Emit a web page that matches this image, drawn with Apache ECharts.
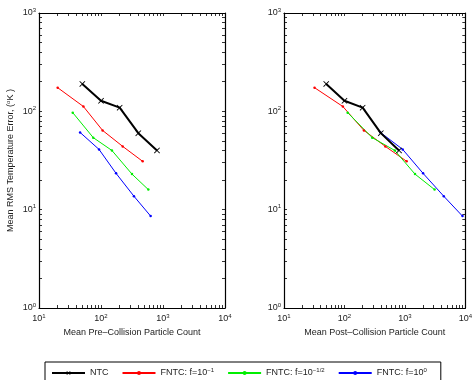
<!DOCTYPE html>
<html><head><meta charset="utf-8">
<script src="https://cdn.jsdelivr.net/npm/echarts@6/dist/echarts.min.js"></script>
<style>html,body{margin:0;padding:0;background:#fff}#c{width:475px;height:380px}</style>
</head><body><div id="c"></div>
<script>
// ---- data ----
const seriesNames = ['NTC', 'FNTC: f=10^\u22121', 'FNTC: f=10^\u22121/2', 'FNTC: f=10^0'];
const ntcCount = [50, 100, 200, 400, 800];
const ntcErr = [190, 128, 109, 60, 40];
const f1Pre = [20, 52, 106, 224, 470];
const f1Post = [32, 94, 210, 475, 1070];
const f1Err = [174, 112, 64, 44, 31];
const f2Pre = [35, 75, 150, 316, 580];
const f2Post = [113, 288, 680, 1470, 3100];
const f2Err = [97, 54, 40, 23, 16];
const f3Pre = [46, 93, 175, 340, 632];
const f3Post = [394, 920, 2000, 4400, 8970];
const f3Err = [61, 41, 23.4, 13.7, 8.6];
const xTicks = [10, 100, 1000, 10000];
const yTicks = [1, 10, 100, 1000];
const xMinor = [10,20,30,40,50,60,70,80,90,100,200,300,400,500,600,700,800,900,1000,2000,3000,4000,5000,6000,7000,8000,9000,10000];
const yMinor = [1,2,3,4,5,6,7,8,9,10,20,30,40,50,60,70,80,90,100,200,300,400,500,600,700,800,900,1000];
const xNames = ['Mean Pre\u2013Collision Particle Count', 'Mean Post\u2013Collision Particle Count'];
const yName = 'Mean RMS Temperature Error, (';
const colors = ['#000000', '#ff0000', '#00ee00', '#0000ff'];

const FONT = 'Liberation Sans, Arial, sans-serif';
const rich = {
  b: {fontSize: 9, fontFamily: FONT, color: '#222'},
  s: {fontSize: 6, fontFamily: FONT, color: '#222', padding: [0, 0, 6, 0]}
};
function supLabel(v) {
  const e = Math.round(Math.log10(v));
  return '{b|10}{s|' + e + '}';
}
function xAxisDef(grid, pos, showLabel, name) {
  return {
    type: 'log', logBase: 10, min: 10, max: 10000, gridIndex: grid, position: pos,
    name: showLabel ? name : '', nameLocation: 'middle', nameGap: 19,
    nameTextStyle: {fontSize: 9, fontFamily: FONT, color: '#222'},
    axisLine: {show: true, lineStyle: {color: '#000', width: 1.2}},
    axisTick: {show: true, inside: true, length: 3, customValues: xMinor, lineStyle: {color: '#000', width: 0.8}},
    axisLabel: {show: showLabel, customValues: xTicks, formatter: supLabel, rich: rich, margin: 5},
    splitLine: {show: false}
  };
}
function yAxisDef(grid, pos, showLabel, withName) {
  return {
    type: 'log', logBase: 10, min: 1, max: 1000, gridIndex: grid, position: pos,
    name: withName ? '{b|' + yName + '}{s|o}{b|K )}' : '', nameLocation: 'middle', nameGap: 22,
    nameRotate: 90,
    nameTextStyle: {fontSize: 9, fontFamily: FONT, color: '#222', rich: rich},
    axisLine: {show: true, lineStyle: {color: '#000', width: 1.2}},
    axisTick: {show: true, inside: true, length: 3, customValues: yMinor, lineStyle: {color: '#000', width: 0.8}},
    axisLabel: {show: showLabel, customValues: yTicks, formatter: supLabel, rich: rich, margin: 3},
    splitLine: {show: false}
  };
}
const crossPath = 'path://M0,1L1,0L5,4L9,0L10,1L6,5L10,9L9,10L5,6L1,10L0,9L4,5Z';
function pairs(xs, ys) { return xs.map((x, i) => [x, ys[i]]); }
function mk(idx, xs, ys, axis) {
  const isNTC = idx === 0;
  return {
    type: 'line', name: seriesNames[idx], xAxisIndex: axis * 2, yAxisIndex: axis * 2,
    data: pairs(xs, ys), z: isNTC ? 5 : 3,
    symbol: isNTC ? crossPath : 'circle', symbolSize: isNTC ? 6 : 2.5,
    showSymbol: true, animation: false,
    lineStyle: {color: colors[idx], width: isNTC ? 2 : 1},
    itemStyle: {color: colors[idx]}
  };
}
const chart = echarts.init(document.getElementById('c'), null, {renderer: 'canvas'});
chart.setOption({
  animation: false,
  backgroundColor: '#fff',
  grid: [
    {left: 39, top: 13, width: 186, height: 295},
    {left: 284, top: 13, width: 184, height: 295}
  ],
  xAxis: [
    xAxisDef(0, 'bottom', true, xNames[0]), xAxisDef(0, 'top', false),
    xAxisDef(1, 'bottom', true, xNames[1]), xAxisDef(1, 'top', false)
  ],
  yAxis: [
    yAxisDef(0, 'left', true, true), yAxisDef(0, 'right', false, false),
    yAxisDef(1, 'left', true, false), yAxisDef(1, 'right', false, false)
  ],
  legend: {
    data: seriesNames, left: 45, top: 362, orient: 'horizontal', width: 460,
    borderColor: '#000', borderWidth: 1, padding: [5, 14, 6, 6],
    itemWidth: 33, itemHeight: 5, itemGap: 13,
    formatter: function (n) {
      if (n === 'NTC') return '{b|NTC}';
      const m = n.split('^');
      return '{b|' + m[0] + '}{s|' + m[1] + '}';
    },
    textStyle: {fontSize: 9, fontFamily: FONT, color: '#222', rich: {
      b: {fontSize: 9, fontFamily: FONT, color: '#222'},
      s: {fontSize: 6, fontFamily: FONT, color: '#222', padding: [0, 0, 6, 0]}
    }}
  },
  series: [
    mk(0, ntcCount, ntcErr, 0), mk(1, f1Pre, f1Err, 0), mk(2, f2Pre, f2Err, 0), mk(3, f3Pre, f3Err, 0),
    mk(0, ntcCount, ntcErr, 1), mk(1, f1Post, f1Err, 1), mk(2, f2Post, f2Err, 1), mk(3, f3Post, f3Err, 1)
  ]
});
</script></body></html>
